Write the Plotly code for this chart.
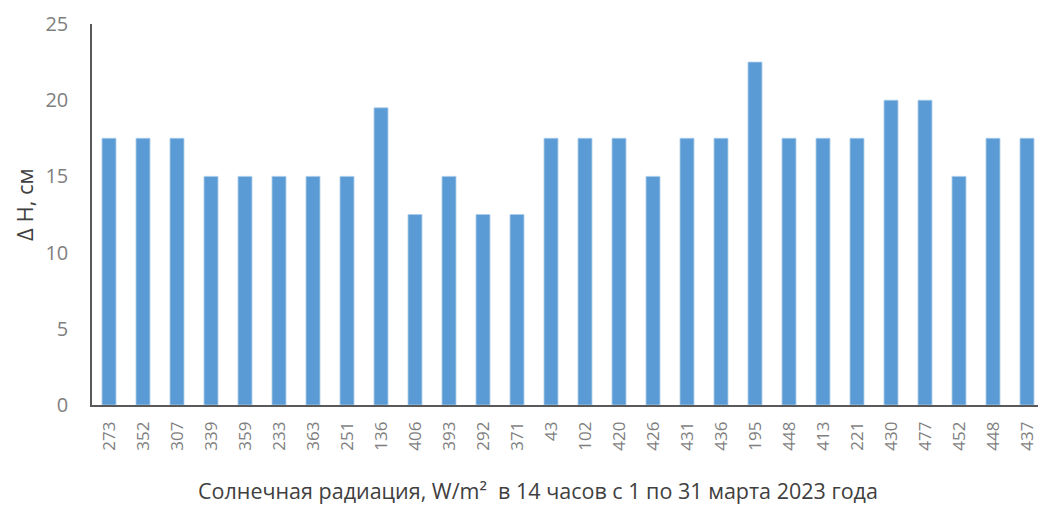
import plotly.graph_objects as go

radiation_labels = ["273", "352", "307", "339", "359", "233", "363", "251", "136", "406",
                    "393", "292", "371", "43", "102", "420", "426", "431", "436", "195",
                    "448", "413", "221", "430", "477", "452", "448", "437"]
delta_h = [17.5, 17.5, 17.5, 15, 15, 15, 15, 15, 19.5, 12.5,
           15, 12.5, 12.5, 17.5, 17.5, 17.5, 15, 17.5, 17.5, 22.5,
           17.5, 17.5, 17.5, 20, 20, 15, 17.5, 17.5]
y_ticks = [0, 5, 10, 15, 20, 25]
x_title = "Солнечная радиация, W/m²  в 14 часов с 1 по 31 марта 2023 года"
y_title = "Δ H, см"

positions = list(range(len(radiation_labels)))

fig = go.Figure(go.Bar(
    x=positions, y=delta_h,
    marker=dict(color="#5B9BD5", line=dict(color="#A9CBEA", width=0.8)),
    width=0.41,
))

fig.update_layout(
    width=1038, height=498,
    margin=dict(l=84, r=2, t=16, b=101),
    paper_bgcolor="white", plot_bgcolor="white",
    font=dict(family="Open Sans", color="#595959"),
    showlegend=False,
    annotations=[
        dict(text=x_title, xref="paper", yref="paper", x=0.4685, y=-0.2257,
             xanchor="center", yanchor="middle", showarrow=False, borderpad=0,
             font=dict(size=21.5, color="#404040")),
        dict(text=y_title, xref="paper", yref="paper", x=-0.0714, y=0.525,
             xanchor="center", yanchor="middle", showarrow=False, textangle=-90,
             borderpad=0, font=dict(size=22, color="#404040")),
    ],
)
fig.update_xaxes(
    tickmode="array", tickvals=positions, ticktext=radiation_labels,
    tickangle=-90, range=[-0.5, len(positions) - 0.5],
    tickfont=dict(size=17, color="#7f7f7f"),
    showline=True, linecolor="#595959", linewidth=1.5,
    showgrid=False, ticks="", ticklabelstandoff=8,
)
fig.update_yaxes(
    range=[0, 25], tickmode="array", tickvals=y_ticks,
    tickfont=dict(size=20, color="#7f7f7f"),
    showline=True, linecolor="#595959", linewidth=1.5,
    showgrid=False, zeroline=False, ticks="", ticklabelstandoff=18,
)

fig.write_html("out.html")
